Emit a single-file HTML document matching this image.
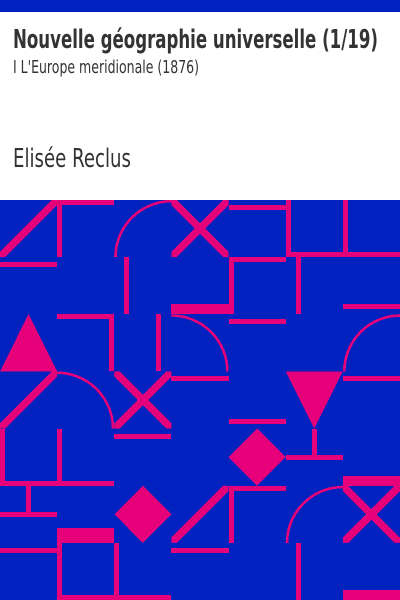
<!DOCTYPE html>
<html lang="fr">
<head>
<meta charset="utf-8">
<title>Nouvelle géographie universelle (1/19)</title>
<style>
html,body{margin:0;padding:0;background:#fff;}
#cover{position:relative;width:400px;height:600px;overflow:hidden;background:#fff;}
#top-band{position:absolute;left:0;top:0;width:400px;height:12px;background:#0222bf;}
svg#texts{position:absolute;left:0;top:0;font-family:"DejaVu Sans",sans-serif;fill:#333;}
svg#pattern{position:absolute;left:0;top:200px;}
.p{fill:#e6007a;stroke:none;}
.d{stroke:#e6007a;stroke-width:7.5;fill:none;}
.a{stroke:#e6007a;stroke-width:2.6;fill:none;}
</style>
</head>
<body>
<div id="cover">
<div id="top-band"></div>
<svg id="texts" width="400" height="200" viewBox="0 0 400 200" xmlns="http://www.w3.org/2000/svg">
<text x="13" y="48" font-size="26" font-weight="bold" textLength="365" lengthAdjust="spacingAndGlyphs">Nouvelle géographie universelle (1/19)</text>
<text x="13" y="73" font-size="18" textLength="186" lengthAdjust="spacingAndGlyphs">I L'Europe meridionale (1876)</text>
<text x="13" y="167" font-size="26" textLength="118" lengthAdjust="spacingAndGlyphs">Elisée Reclus</text>
</svg>
<svg id="pattern" width="400" height="400" viewBox="0 200 400 400" shape-rendering="crispEdges" xmlns="http://www.w3.org/2000/svg">
<rect x="0" y="200" width="400" height="400" fill="#0222bf"/>

<!-- row 0 -->
<svg x="0" y="200" width="57.14" height="57.14"><line class="d" x1="0" y1="57.14" x2="57.14" y2="0"/></svg>
<rect class="p" x="57" y="200" width="57" height="5"/>
<rect class="p" x="57" y="200" width="5" height="57"/>
<path class="a" d="M115.5 257 A56 56 0 0 1 171.4 201.2"/>
<svg x="171.43" y="200" width="57.14" height="57.14"><line class="d" x1="0" y1="57.14" x2="57.14" y2="0"/><line class="d" x1="0" y1="0" x2="57.14" y2="57.14"/></svg>
<rect class="p" x="229" y="205" width="57" height="5"/>
<rect class="p" x="286" y="200" width="5" height="57"/>
<rect class="p" x="286" y="252" width="57" height="5"/>
<rect class="p" x="343" y="200" width="5" height="57"/>
<rect class="p" x="343" y="252" width="57" height="5"/>

<!-- row 1 -->
<rect class="p" x="0" y="262" width="57" height="5"/>
<rect class="p" x="124" y="257" width="5" height="57"/>
<rect class="p" x="171" y="304" width="58" height="10"/>
<rect class="p" x="229" y="257" width="5" height="57"/>
<rect class="p" x="229" y="257" width="57" height="5"/>
<rect class="p" x="296" y="257" width="5" height="57"/>
<rect class="p" x="343" y="304" width="57" height="5"/>

<!-- row 2 -->
<polygon class="p" points="28.57,314 57.14,371.43 0,371.43"/>
<rect class="p" x="57" y="314" width="57" height="5"/>
<rect class="p" x="109" y="314" width="5" height="57"/>
<rect class="p" x="156" y="314" width="5" height="57"/>
<path class="a" d="M171.4 315.5 A56 56 0 0 1 227.4 371.4"/>
<rect class="p" x="229" y="319" width="57" height="5"/>
<path class="a" d="M344.3 371.4 A56 56 0 0 1 400 315.5"/>

<!-- row 3 -->
<svg x="0" y="371.43" width="57.14" height="57.14"><line class="d" x1="0" y1="57.14" x2="57.14" y2="0"/></svg>
<path class="a" d="M57.1 372.7 A56 56 0 0 1 113 428.6"/>
<svg x="114.29" y="371.43" width="57.14" height="57.14"><line class="d" x1="0" y1="57.14" x2="57.14" y2="0"/><line class="d" x1="0" y1="0" x2="57.14" y2="57.14"/></svg>
<rect class="p" x="171" y="376" width="58" height="5"/>
<rect class="p" x="229" y="419" width="57" height="5"/>
<polygon class="p" points="285.71,371.43 342.86,371.43 314.29,428.57"/>
<rect class="p" x="343" y="376" width="57" height="5"/>

<!-- row 4 -->
<rect class="p" x="0" y="429" width="5" height="57"/>
<rect class="p" x="0" y="481" width="57" height="5"/>
<rect class="p" x="57" y="429" width="5" height="57"/>
<rect class="p" x="57" y="481" width="57" height="5"/>
<rect class="p" x="114" y="434" width="57" height="5"/>
<polygon class="p" points="257.14,428.57 285.71,457.14 257.14,485.71 228.57,457.14"/>
<rect class="p" x="312" y="429" width="5" height="28"/>
<rect class="p" x="286" y="455" width="57" height="5"/>
<rect class="p" x="343" y="476" width="57" height="10"/>

<!-- row 5 -->
<rect class="p" x="26" y="486" width="5" height="28"/>
<rect class="p" x="0" y="512" width="57" height="5"/>
<rect class="p" x="57" y="528" width="57" height="15"/>
<polygon class="p" points="142.86,485.71 171.43,514.29 142.86,542.86 114.29,514.29"/>
<svg x="171.43" y="485.71" width="57.14" height="57.14"><line class="d" x1="0" y1="57.14" x2="57.14" y2="0"/></svg>
<rect class="p" x="229" y="486" width="57" height="5"/>
<rect class="p" x="229" y="486" width="5" height="57"/>
<path class="a" d="M287 542.9 A56 56 0 0 1 342.9 487"/>
<svg x="342.86" y="485.71" width="57.14" height="57.14"><line class="d" x1="0" y1="57.14" x2="57.14" y2="0"/><line class="d" x1="0" y1="0" x2="57.14" y2="57.14"/></svg>

<!-- row 6 -->
<rect class="p" x="0" y="548" width="57" height="5"/>
<rect class="p" x="57" y="543" width="5" height="57"/>
<rect class="p" x="57" y="595" width="57" height="5"/>
<rect class="p" x="114" y="543" width="5" height="57"/>
<rect class="p" x="114" y="595" width="57" height="5"/>
<rect class="p" x="171" y="548" width="58" height="5"/>
<rect class="p" x="296" y="543" width="5" height="57"/>
<rect class="p" x="343" y="590" width="57" height="10"/>
</svg>
</div>
</body>
</html>
